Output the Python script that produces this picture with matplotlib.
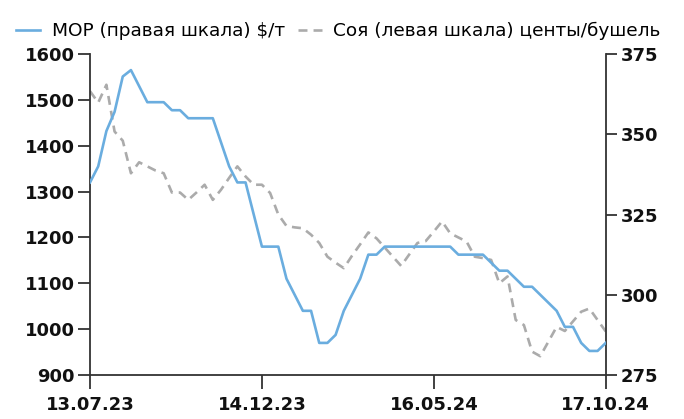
import matplotlib
matplotlib.use('Agg')
import matplotlib.pyplot as plt

plt.rcParams['font.family'] = ['DejaVu Sans']

# weekly points, 13.07.23 .. 17.10.24
tick_labels = ['13.07.23', '14.12.23', '16.05.24', '17.10.24']
tick_idx = [0, 21, 42, 63]

# Соя, центы/бушель (left axis)
soy = [1519, 1494, 1533, 1431, 1411, 1340, 1364, 1355, 1346, 1340,
       1298, 1298, 1282, 1298, 1315, 1282, 1304, 1330, 1355, 1333,
       1315, 1315, 1297, 1250, 1225, 1222, 1220, 1206, 1188, 1158,
       1145, 1133, 1160, 1185, 1211, 1198, 1178, 1158, 1138, 1163,
       1188, 1192, 1213, 1235, 1209, 1200, 1191, 1158, 1155, 1151,
       1100, 1115, 1020, 1009, 951, 941, 973, 1005, 996, 1017,
       1038, 1045, 1020, 995]

# МОР, $/т (right axis)
mop = [335, 340, 351, 357, 368, 370, 365, 360, 360, 360,
       357.5, 357.5, 355, 355, 355, 355, 347.5, 340, 335, 335,
       325, 315, 315, 315, 305, 300, 295, 295, 285, 285,
       287.5, 295, 300, 305, 312.5, 312.5, 315, 315, 315, 315,
       315, 315, 315, 315, 315, 312.5, 312.5, 312.5, 312.5, 310,
       307.5, 307.5, 305, 302.5, 302.5, 300, 297.5, 295, 290, 290,
       285, 282.5, 282.5, 285]

blue = '#6aaddf'
grey = '#ababab'
axcol = '#333333'

fig = plt.figure(figsize=(6.84, 4.19), dpi=100)
ax = fig.add_axes([0.1316, 0.105, 0.754, 0.766])
ax2 = ax.twinx()

x = list(range(len(soy)))
l2, = ax.plot(x, soy, color=grey, lw=1.9, dashes=(3.4, 2.3), zorder=2)
l1, = ax2.plot(x, mop, color=blue, lw=1.9, zorder=3)

ax.set_xlim(0, len(soy) - 1)
ax.set_ylim(900, 1600)
ax.set_yticks(range(900, 1601, 100))
ax2.set_ylim(275, 375)
ax2.set_yticks([275, 300, 325, 350, 375])
ax.set_xticks(tick_idx)
ax.set_xticklabels(tick_labels)

for a in (ax, ax2):
    a.spines['top'].set_visible(False)
    for s in a.spines.values():
        s.set_color(axcol)
        s.set_linewidth(1.3)
ax.spines['right'].set_visible(False)
ax2.spines['left'].set_visible(False)
ax2.spines['bottom'].set_visible(False)

ax.tick_params(axis='y', length=9, width=1.3, color=axcol, pad=2,
               labelsize=13, labelcolor='#111111')
ax.tick_params(axis='x', length=10, width=1.3, color=axcol, pad=5,
               labelsize=13, labelcolor='#111111')
ax2.tick_params(axis='y', length=8, width=1.3, color=axcol, pad=3,
                labelsize=13, labelcolor='#111111')
for lab in ax.get_xticklabels() + ax.get_yticklabels() + ax2.get_yticklabels():
    lab.set_fontweight('bold')

fig.legend([l1, l2], ['МОР (правая шкала) $/т', 'Соя (левая шкала) центы/бушель'],
           loc='center left', bbox_to_anchor=(0.024, 0.926), ncol=2,
           frameon=False, fontsize=13.3, handlelength=1.3, handletextpad=0.6,
           columnspacing=0.7, borderaxespad=0, borderpad=0)

fig.savefig('out.png', dpi=100)
